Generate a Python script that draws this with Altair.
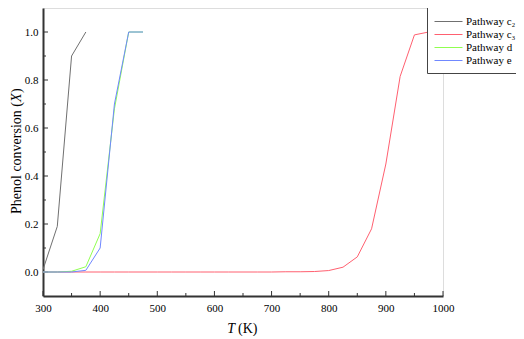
import altair as alt
import pandas as pd

# ---- data ----
series = ["Pathway c₂", "Pathway c₃", "Pathway d", "Pathway e"]
colors = ["#707070", "#ff6070", "#90ff50", "#7088ff"]

t_c2 = [300, 325, 350, 375]
x_c2 = [0.01, 0.19, 0.90, 1.00]

t_c3 = [300, 325, 350, 375, 400, 425, 450, 475, 500, 525, 550, 575, 600, 625, 650,
        675, 700, 725, 750, 775, 800, 825, 850, 875, 900, 925, 950, 975]
x_c3 = [0.0, 0.0, 0.0, 0.0, 0.0, 0.0, 0.0, 0.0, 0.0, 0.0, 0.0, 0.0, 0.0, 0.0, 0.0,
        0.0, 0.0, 0.001, 0.001, 0.002, 0.006, 0.02, 0.063, 0.18, 0.45, 0.815, 0.988, 1.0]

t_d = [300, 325, 350, 375, 400, 425, 450, 475]
x_d = [0.0, 0.0, 0.003, 0.022, 0.16, 0.68, 1.0, 1.0]

t_e = [300, 325, 350, 375, 400, 425, 450, 475]
x_e = [0.0, 0.0, 0.0, 0.007, 0.10, 0.70, 1.0, 1.0]

x_major = [300, 400, 500, 600, 700, 800, 900, 1000]
x_minor = [350, 450, 550, 650, 750, 850, 950]
y_major = [0.0, 0.2, 0.4, 0.6, 0.8, 1.0]
y_minor = [0.1, 0.3, 0.5, 0.7, 0.9]

# ---- build tables ----
rows = []
for name, ts, xs in zip(series, [t_c2, t_c3, t_d, t_e], [x_c2, x_c3, x_d, x_e]):
    for i, (t, v) in enumerate(zip(ts, xs)):
        rows.append({"T": t, "X": v, "s": name, "o": i})
df = pd.DataFrame(rows)

W, H = 400, 288
FONT = "Liberation Serif"

xscale = alt.Scale(domain=[300, 1000], nice=False, zero=False)
yscale = alt.Scale(domain=[-0.1, 1.1], nice=False, zero=False)

x_axis = alt.Axis(values=x_major, format="d", title=None, ticks=False, grid=False,
                  labelFont=FONT, labelFontSize=11, labelColor="black",
                  labelPadding=6, domainColor="#333333", domainWidth=2,
                  labelFlush=False, labelOverlap=False)
y_axis = alt.Axis(values=y_major, format=".1f", title=None, ticks=False, grid=False,
                  labelFont=FONT, labelFontSize=11, labelColor="black",
                  labelPadding=5, domainColor="#333333", domainWidth=2,
                  labelFlush=False, labelOverlap=False)

lines = alt.Chart(df).mark_line(strokeWidth=1, clip=True).encode(
    x=alt.X("T:Q", scale=xscale, axis=x_axis),
    y=alt.Y("X:Q", scale=yscale, axis=y_axis),
    color=alt.Color("s:N", scale=alt.Scale(domain=series, range=colors),
                    sort=series,
                    legend=alt.Legend(title=None, orient="none", legendX=384, legendY=-1,
                                      labelFont=FONT, labelFontSize=11, labelColor="black",
                                      symbolType="M-1,0H3", symbolSize=196,
                                      symbolStrokeWidth=1, symbolFillColor="transparent",
                                      strokeColor="#444444",
                                      fillColor="white", padding=7, rowPadding=0,
                                      labelOffset=17, labelLimit=200)),
    order="o:Q",
)

def xticks(vals, length):
    return alt.Chart(pd.DataFrame({"T": vals})).mark_rule(color="#333333", strokeWidth=1).encode(
        x=alt.X("T:Q", scale=xscale, axis=x_axis),
        y=alt.value(H), y2=alt.value(H - length))

def yticks(vals, length):
    return alt.Chart(pd.DataFrame({"X": vals})).mark_rule(color="#333333", strokeWidth=1).encode(
        y=alt.Y("X:Q", scale=yscale, axis=y_axis),
        x=alt.value(0), x2=alt.value(length))

def label(txt, x, y, italic=False, angle=0, align="center", size=14):
    kw = dict(font=FONT, fontSize=size, color="black", align=align, baseline="middle",
              angle=angle)
    if italic:
        kw["fontStyle"] = "italic"
    return alt.Chart(pd.DataFrame({"t": [txt]})).mark_text(**kw).encode(
        text="t:N", x=alt.value(x), y=alt.value(y))

cy = H / 2
YT = -26
titles = [
    label("T", 192, 321, italic=True, align="right"),
    label("(K)", 195, 321, align="left"),
    label("Phenol conversion (", YT, cy + 62, angle=270, align="left"),
    label("X", YT, cy + 62 - 112, italic=True, angle=270, align="left"),
    label(")", YT, cy + 62 - 112 - 9, angle=270, align="left"),
]

chart = alt.layer(
    xticks(x_major, 5), xticks(x_minor, 3), yticks(y_major, 5), yticks(y_minor, 3),
    lines, *titles
).properties(
    width=W, height=H,
    autosize=alt.AutoSizeParams(type="none"),
    padding={"left": 35, "top": 0, "right": 73, "bottom": 40},
).configure_view(
    stroke="black", strokeWidth=1.5
).configure(background="white")

chart.save("out.html", embed_options={"renderer": "svg", "actions": False})
